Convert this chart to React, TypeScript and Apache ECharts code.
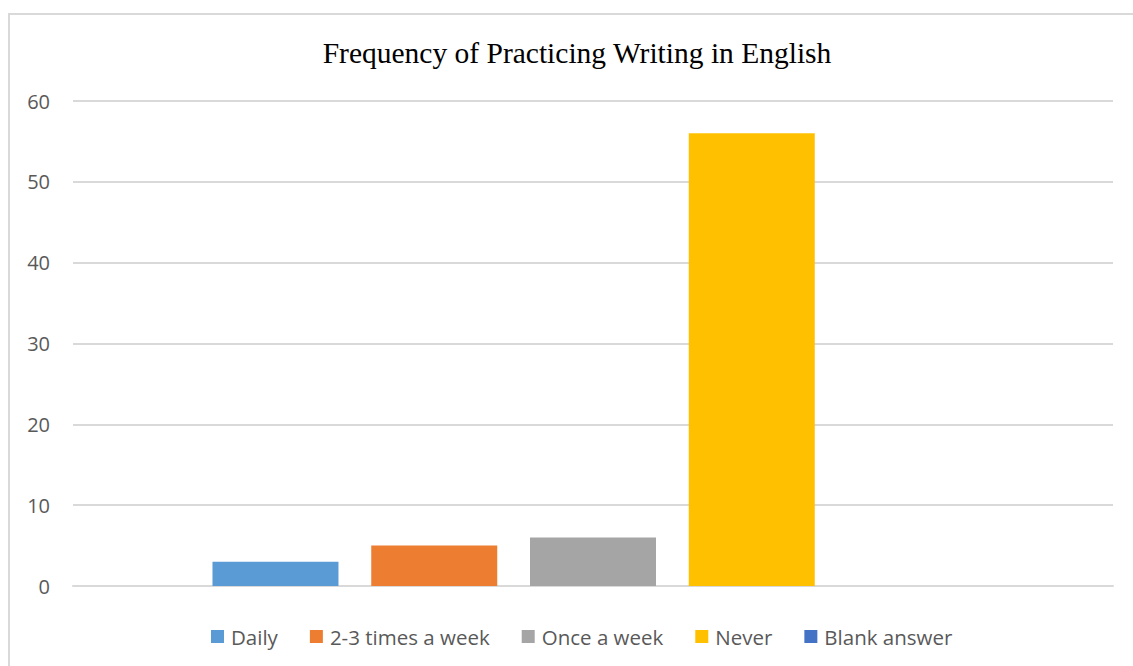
import React, { useEffect, useRef } from "react";
import * as echarts from "echarts";

const categories = ["Responses"];
const seriesNames = ["Daily", "2-3 times a week", "Once a week", "Never", "Blank answer"];
const seriesValues = [3, 5, 6, 56, 0];
const seriesColors = ["#5b9bd5", "#ed7d31", "#a5a5a5", "#ffc000", "#4472c4"];
const yTicks = { min: 0, max: 60, interval: 10 };
const titleText = "Frequency of Practicing Writing in English";

export default function App() {
  const ref = useRef<HTMLDivElement>(null);

  useEffect(() => {
    if (!ref.current) return;
    const chart = echarts.init(ref.current, undefined, { renderer: "svg" });
    const sansFont = "'Open Sans', 'Noto Sans', sans-serif";

    chart.setOption({
      animation: false,
      backgroundColor: "#ffffff",
      title: {
        text: titleText,
        left: 572,
        top: 33,
        textAlign: "center",
        textStyle: {
          fontFamily: "'Liberation Serif', 'DejaVu Serif', serif",
          fontSize: 29.5,
          fontWeight: "normal",
          color: "#000000",
        },
      },
      graphic: [
        {
          type: "rect",
          shape: { x: 9, y: 14, width: 1200, height: 700 },
          style: { fill: "none", stroke: "#d9d9d9", lineWidth: 2 },
          silent: true,
          z: -1,
        },
      ],
      legend: {
        data: seriesNames,
        left: 206,
        top: 621,
        itemWidth: 13,
        itemHeight: 13,
        itemGap: 32,
        icon: "rect",
        textStyle: {
          fontFamily: sansFont,
          fontSize: 20.5,
          color: "#595959",
          padding: [0, 0, 0, 2],
        },
      },
      grid: { left: 73, right: 20, top: 101, bottom: 80, containLabel: false },
      xAxis: {
        type: "category",
        data: categories,
        axisLine: { show: true, lineStyle: { color: "#d9d9d9", width: 2 } },
        axisTick: { show: false },
        axisLabel: { show: false },
      },
      yAxis: {
        type: "value",
        min: yTicks.min,
        max: yTicks.max,
        interval: yTicks.interval,
        axisLine: { show: false },
        axisTick: { show: false },
        axisLabel: {
          margin: 23,
          fontFamily: sansFont,
          fontSize: 20,
          color: "#595959",
        },
        splitLine: { lineStyle: { color: "#d9d9d9", width: 2 } },
      },
      series: seriesNames.map((name, i) => ({
        name,
        type: "bar",
        data: [seriesValues[i]],
        barWidth: 126,
        barGap: "26%",
        itemStyle: { color: seriesColors[i] },
      })),
    });

    return () => chart.dispose();
  }, []);

  return (
    <div
      ref={ref}
      style={{ position: "fixed", left: 0, top: 0, width: 1133, height: 666 }}
    />
  );
}
